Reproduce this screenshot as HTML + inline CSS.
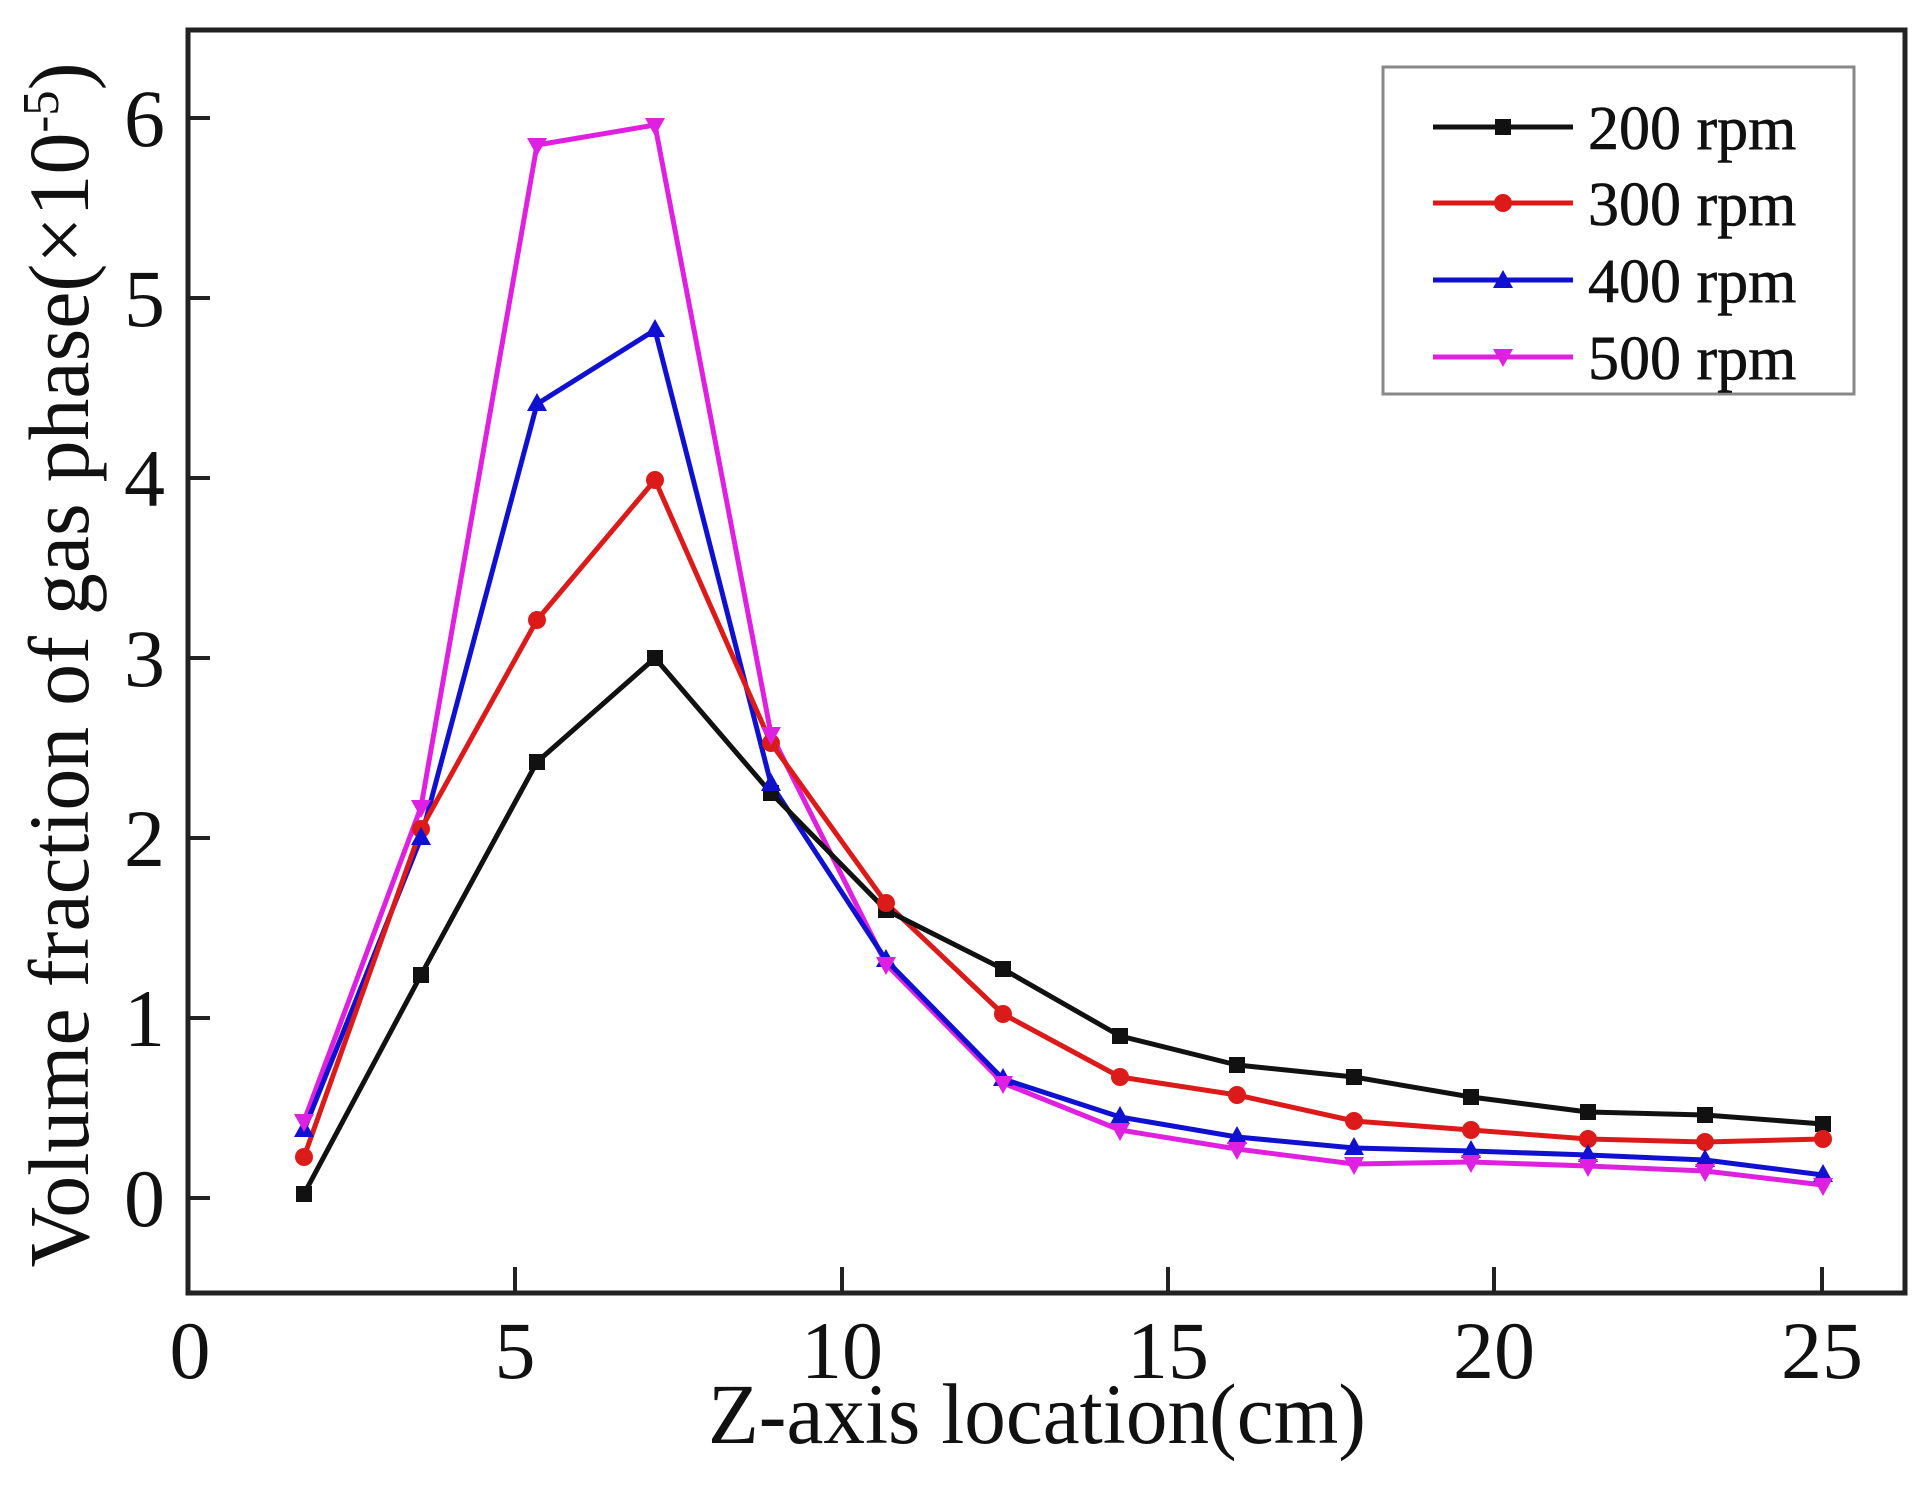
<!DOCTYPE html>
<html><head><meta charset="utf-8"><style>html,body{margin:0;padding:0;background:#fff}svg{display:block}</style></head>
<body>
<svg width="1930" height="1487" viewBox="0 0 1930 1487" xmlns="http://www.w3.org/2000/svg" font-family="Liberation Serif, serif">
<rect width="1930" height="1487" fill="#fff"/>
<rect x="188" y="30" width="1717" height="1263" fill="none" stroke="#222" stroke-width="5"/>
<g stroke="#222" stroke-width="4">
<line x1="188" y1="1198" x2="210" y2="1198"/>
<line x1="188" y1="1018" x2="210" y2="1018"/>
<line x1="188" y1="838" x2="210" y2="838"/>
<line x1="188" y1="658" x2="210" y2="658"/>
<line x1="188" y1="478" x2="210" y2="478"/>
<line x1="188" y1="298" x2="210" y2="298"/>
<line x1="188" y1="118" x2="210" y2="118"/>
<line x1="515" y1="1293" x2="515" y2="1267"/>
<line x1="842" y1="1293" x2="842" y2="1267"/>
<line x1="1168" y1="1293" x2="1168" y2="1267"/>
<line x1="1494" y1="1293" x2="1494" y2="1267"/>
<line x1="1822" y1="1293" x2="1822" y2="1267"/>
</g>
<g font-size="82" fill="#111" text-anchor="end">
<text x="165" y="1226">0</text>
<text x="165" y="1046">1</text>
<text x="165" y="866">2</text>
<text x="165" y="686">3</text>
<text x="165" y="506">4</text>
<text x="165" y="326">5</text>
<text x="165" y="146">6</text>
</g>
<g font-size="82" fill="#111" text-anchor="middle">
<text x="190" y="1378">0</text>
<text x="515" y="1378">5</text>
<text x="842" y="1378">10</text>
<text x="1168" y="1378">15</text>
<text x="1494" y="1378">20</text>
<text x="1822" y="1378">25</text>
</g>
<text x="1037" y="1443" font-size="86" text-anchor="middle" textLength="658" lengthAdjust="spacingAndGlyphs" fill="#111">Z-axis location(cm)</text>
<text transform="translate(88,665) rotate(-90)" font-size="86" text-anchor="middle" textLength="1205" lengthAdjust="spacingAndGlyphs" fill="#111">Volume fraction of gas phase(×10<tspan dy="-30" font-size="52">-5</tspan><tspan dy="30">)</tspan></text>

<g fill="none" stroke-width="5" stroke-linejoin="round">
<polyline stroke="#e020e0" points="304,1121 421,807 537,145 655,125 771,734 886,964 1003,1083 1120,1130 1237,1149 1354,1164 1471,1162 1588,1166 1705,1171 1823,1185"/>
<polyline stroke="#1010d0" points="304,1130 421,838 537,404 655,330 771,784 886,960 1003,1079 1120,1117 1237,1137 1354,1148 1471,1151 1588,1155 1705,1160 1823,1175"/>
<polyline stroke="#dd1a1a" points="304,1157 421,829 537,620 655,480 771,743 886,903 1003,1014 1120,1077 1237,1095 1354,1121 1471,1130 1588,1139 1705,1142 1823,1139"/>
<polyline stroke="#111" points="304,1194 421,975 537,762 655,658 771,793 886,910 1003,969 1120,1036 1237,1065 1354,1077 1471,1097 1588,1112 1705,1115 1823,1124"/>
</g>
<g fill="#111">
<rect x="296" y="1186" width="16" height="16"/><rect x="413" y="967" width="16" height="16"/><rect x="529" y="754" width="16" height="16"/><rect x="647" y="650" width="16" height="16"/><rect x="763" y="785" width="16" height="16"/><rect x="878" y="902" width="16" height="16"/><rect x="995" y="961" width="16" height="16"/><rect x="1112" y="1028" width="16" height="16"/><rect x="1229" y="1057" width="16" height="16"/><rect x="1346" y="1069" width="16" height="16"/><rect x="1463" y="1089" width="16" height="16"/><rect x="1580" y="1104" width="16" height="16"/><rect x="1697" y="1107" width="16" height="16"/><rect x="1815" y="1116" width="16" height="16"/>
</g>
<g fill="#dd1a1a">
<circle cx="304" cy="1157" r="9"/><circle cx="421" cy="829" r="9"/><circle cx="537" cy="620" r="9"/><circle cx="655" cy="480" r="9"/><circle cx="771" cy="743" r="9"/><circle cx="886" cy="903" r="9"/><circle cx="1003" cy="1014" r="9"/><circle cx="1120" cy="1077" r="9"/><circle cx="1237" cy="1095" r="9"/><circle cx="1354" cy="1121" r="9"/><circle cx="1471" cy="1130" r="9"/><circle cx="1588" cy="1139" r="9"/><circle cx="1705" cy="1142" r="9"/><circle cx="1823" cy="1139" r="9"/>
</g>
<g fill="#1010d0">
<path d="M304,1119l10,18h-20z M421,827l10,18h-20z M537,393l10,18h-20z M655,319l10,18h-20z M771,773l10,18h-20z M886,949l10,18h-20z M1003,1068l10,18h-20z M1120,1106l10,18h-20z M1237,1126l10,18h-20z M1354,1137l10,18h-20z M1471,1140l10,18h-20z M1588,1144l10,18h-20z M1705,1149l10,18h-20z M1823,1164l10,18h-20z"/>
</g>
<g fill="#e020e0">
<path d="M304,1132l10,-18h-20z M421,818l10,-18h-20z M537,156l10,-18h-20z M655,136l10,-18h-20z M771,745l10,-18h-20z M886,975l10,-18h-20z M1003,1094l10,-18h-20z M1120,1141l10,-18h-20z M1237,1160l10,-18h-20z M1354,1175l10,-18h-20z M1471,1173l10,-18h-20z M1588,1177l10,-18h-20z M1705,1182l10,-18h-20z M1823,1196l10,-18h-20z"/>
</g>

<rect x="1383" y="67" width="471" height="327" fill="#fff" stroke="#888" stroke-width="3"/>
<g stroke-width="5">
<line x1="1433" y1="127" x2="1573" y2="127" stroke="#111"/>
<line x1="1433" y1="203" x2="1573" y2="203" stroke="#dd1a1a"/>
<line x1="1433" y1="280" x2="1573" y2="280" stroke="#1010d0"/>
<line x1="1433" y1="357" x2="1573" y2="357" stroke="#e020e0"/>
</g>
<rect x="1495" y="119" width="16" height="16" fill="#111"/>
<circle cx="1503" cy="203" r="9" fill="#dd1a1a"/>
<path d="M1503,270l10,18h-20z" fill="#1010d0"/>
<path d="M1503,367l10,-18h-20z" fill="#e020e0"/>
<g font-size="62" fill="#111" stroke="#111" stroke-width="0.6">
<text x="1588" y="149">200 rpm</text>
<text x="1588" y="225">300 rpm</text>
<text x="1588" y="302">400 rpm</text>
<text x="1588" y="379">500 rpm</text>
</g>
</svg>
</body></html>
